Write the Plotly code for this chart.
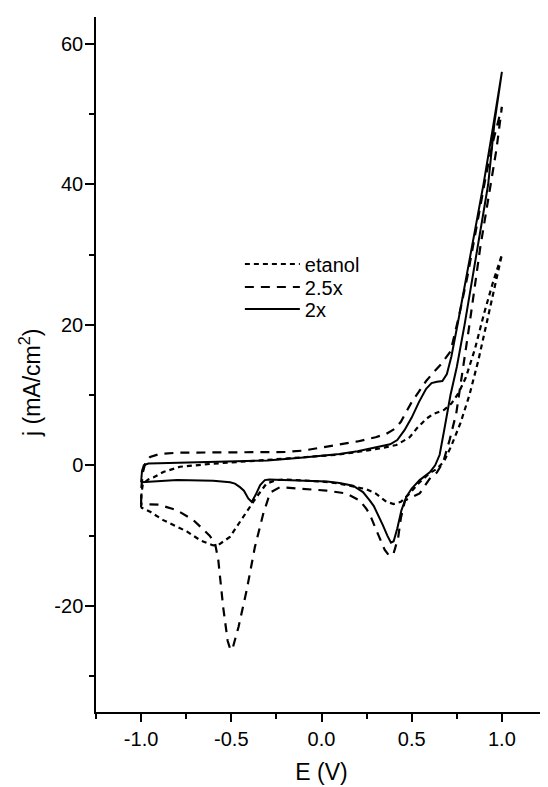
import plotly.graph_objects as go

# ---- data ----
# "etanol" (dotted)
etanol_E = [-1.0, -0.998, -0.99, -0.96, -0.93, -0.877, -0.784, -0.6, -0.34, -0.1, 0.083, 0.2, 0.323, 0.415,
            0.489, 0.53, 0.58, 0.618, 0.68, 0.72, 0.76, 0.8, 0.85, 0.9, 0.95, 1.0,
            0.96, 0.915, 0.87, 0.82, 0.77, 0.72, 0.68, 0.64, 0.6, 0.544, 0.489, 0.44, 0.4, 0.36, 0.3, 0.25,
            0.175, 0.1, 0.0, -0.1, -0.2, -0.25, -0.305, -0.36, -0.434, -0.508, -0.57, -0.6, -0.67, -0.747,
            -0.877, -0.95, -1.0]
etanol_j = [-6.0, -4.0, -2.6, -2.0, -1.7, -0.95, -0.2, 0.24, 0.7, 1.1, 1.5, 1.9, 2.4, 2.9,
            4.0, 5.3, 6.6, 7.3, 7.9, 8.8, 10.3, 12.5, 16.5, 21.5, 26.0, 30.0,
            25.5, 20.0, 15.0, 10.0, 6.0, 2.8, 0.6, -0.5, -1.1, -2.4, -4.0, -5.2, -5.5, -5.2, -4.0, -3.4,
            -3.0, -2.6, -2.3, -2.1, -2.0, -2.1, -2.6, -4.5, -7.4, -10.2, -11.3, -11.4, -10.7, -9.4,
            -7.8, -6.6, -6.0]

# "2.5x" (dashed)
x25_E = [-1.0, -0.998, -0.99, -0.975, -0.95, -0.9, -0.8, -0.6, -0.4, -0.2, -0.1, 0.0, 0.1, 0.2, 0.3, 0.36,
         0.406, 0.44, 0.463, 0.5, 0.54, 0.58, 0.62, 0.66, 0.715, 0.76, 0.81, 0.86, 0.91, 0.95, 1.0,
         0.97, 0.93, 0.88, 0.82, 0.784, 0.747, 0.71, 0.675, 0.64, 0.6, 0.544, 0.5, 0.463, 0.44, 0.425,
         0.4, 0.376, 0.35, 0.33, 0.3, 0.27, 0.249, 0.212, 0.138, 0.028, -0.1, -0.23, -0.28, -0.295,
         -0.323, -0.369, -0.415, -0.46, -0.49, -0.504, -0.52, -0.545, -0.572, -0.59, -0.62, -0.71,
         -0.8, -0.9, -1.0]
x25_j = [-5.5, -3.0, -1.0, 0.5, 1.2, 1.6, 1.8, 1.8, 1.8, 1.9, 2.1, 2.5, 2.9, 3.4, 4.0, 4.5,
         5.2, 6.2, 7.3, 9.0, 10.5, 12.0, 13.2, 14.3, 16.2, 21.0, 27.0, 34.0, 41.0, 46.0, 51.0,
         45.0, 39.0, 31.0, 20.0, 13.5, 7.4, 3.6, 0.5, -1.0, -1.9, -4.0, -4.5, -5.0, -7.5, -10.3,
         -12.5, -12.9, -12.0, -10.7, -9.0, -7.1, -6.2, -5.0, -4.0, -3.6, -3.3, -3.1, -3.8, -4.7,
         -6.9, -11.6, -17.8, -23.0, -25.8, -26.3, -25.0, -20.2, -13.5, -11.1, -10.0, -7.8,
         -6.4, -5.6, -5.5]

# "2x" (solid)
x2_E = [-1.0, -0.995, -0.985, -0.96, -0.9, -0.7, -0.5, -0.3, -0.1, 0.0, 0.1, 0.2, 0.3, 0.38, 0.42, 0.46,
        0.5, 0.54, 0.58, 0.61, 0.64, 0.67, 0.695, 0.72, 0.754, 0.8, 0.85, 0.898, 0.95, 1.0,
        0.96, 0.924, 0.86, 0.793, 0.75, 0.715, 0.68, 0.655, 0.63, 0.6, 0.544, 0.5, 0.47, 0.443, 0.42,
        0.4, 0.385, 0.365, 0.34, 0.318, 0.29, 0.267, 0.23, 0.175, 0.1, 0.03, -0.1, -0.2, -0.29, -0.314,
        -0.34, -0.365, -0.387, -0.406, -0.43, -0.452, -0.48, -0.507, -0.6, -0.8, -0.95, -1.0]
x2_j = [-2.4, -0.8, 0.0, 0.25, 0.3, 0.4, 0.5, 0.7, 1.1, 1.3, 1.6, 2.0, 2.5, 3.0, 3.6, 5.0,
        6.8, 9.0, 10.9, 11.7, 11.9, 12.0, 13.0, 15.5, 20.0, 26.5, 33.3, 40.0, 48.0, 56.0,
        49.0, 40.0, 30.0, 20.0, 14.0, 10.0, 5.0, 1.5, 0.0, -1.0, -2.1, -3.3, -4.5, -6.4, -9.0,
        -10.8, -11.0, -10.0, -8.5, -7.2, -5.8, -5.0, -3.8, -2.9, -2.5, -2.3, -2.2, -2.1, -2.0, -2.1,
        -2.8, -4.2, -5.2, -4.7, -3.6, -3.1, -2.6, -2.4, -2.2, -2.1, -2.3, -2.4]

series_names = ["etanol", "2.5x", "2x"]

x_tickvals = [-1.0, -0.5, 0.0, 0.5, 1.0]
x_ticktext = ["-1.0", "-0.5", "0.0", "0.5", "1.0"]
y_tickvals = [-20, 0, 20, 40, 60]
y_ticktext = ["-20", "0", "20", "40", "60"]
x_title = "E (V)"
y_title = "j (mA/cm<sup>2</sup>)"

FONT = "Liberation Sans, Arial, sans-serif"

fig = go.Figure()
fig.add_trace(go.Scatter(x=etanol_E, y=etanol_j, mode="lines", name=series_names[0], legend="legend",
                         line=dict(color="black", width=2.2, dash="5px,4px")))
fig.add_trace(go.Scatter(x=x25_E, y=x25_j, mode="lines", name=series_names[1], legend="legend2",
                         line=dict(color="black", width=2.2, dash="9px,7px")))
fig.add_trace(go.Scatter(x=x2_E, y=x2_j, mode="lines", name=series_names[2], legend="legend3",
                         line=dict(color="black", width=2)))

leg_common = dict(x=0.319, xanchor="left", yanchor="middle", bgcolor="rgba(0,0,0,0)",
                  borderwidth=0, itemwidth=55, font=dict(size=20))

# the page body adds an 8px offset, so the figure is 8px smaller and margins are reduced by 8
fig.update_layout(
    width=540, height=779,
    margin=dict(l=88, r=1, t=9, b=75, autoexpand=False),
    paper_bgcolor="white", plot_bgcolor="white",
    font=dict(family=FONT, size=20, color="black"),
    showlegend=True,
    legend=dict(y=0.6446, **leg_common),
    legend2=dict(y=0.6115, **leg_common),
    legend3=dict(y=0.5799, **leg_common),
    annotations=[dict(text=y_title, xref="paper", yref="paper", x=-0.1463, y=0.4734,
                      xanchor="center", yanchor="middle", textangle=-90, showarrow=False,
                      font=dict(size=23))],
)
fig.update_xaxes(
    range=[-1.25, 1.25], showgrid=False, zeroline=False, automargin=False,
    showline=True, linecolor="black", linewidth=1.5,
    ticks="outside", ticklen=8, tickwidth=1.5, tickcolor="black",
    tickvals=x_tickvals, ticktext=x_ticktext,
    minor=dict(ticks="outside", ticklen=5, tickwidth=1.5, tickcolor="black", dtick=0.25, tick0=-1.25),
    title=dict(text=x_title, font=dict(size=23), standoff=15),
)
fig.update_yaxes(
    range=[-35.1, 63.8], showgrid=False, zeroline=False, automargin=False,
    showline=True, linecolor="black", linewidth=1.5,
    ticks="outside", ticklen=9, tickwidth=1.5, tickcolor="black", ticklabelstandoff=-2,
    tickvals=y_tickvals, ticktext=y_ticktext,
    minor=dict(ticks="outside", ticklen=5, tickwidth=1.5, tickcolor="black", dtick=10, tick0=-30),
)

fig.write_html("out.html")
